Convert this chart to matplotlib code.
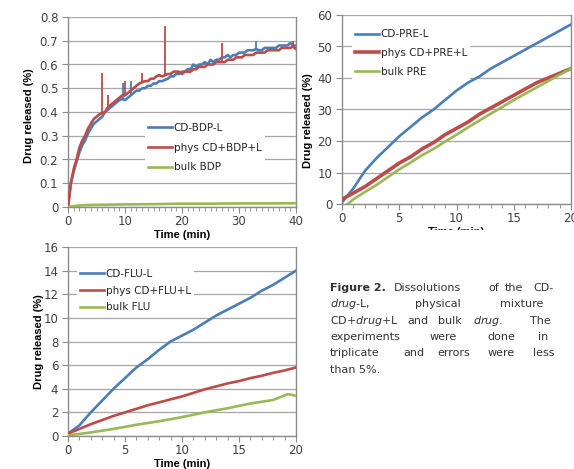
import numpy as np
import matplotlib
matplotlib.use("Agg")
import matplotlib.pyplot as plt
from matplotlib.patches import Rectangle
from matplotlib.ticker import MultipleLocator

BLUE = "#4a7ebb"
RED = "#be4b48"
GREEN = "#98b954"
GRID = "#a6a6a6"
FRAME = "#8c8c8c"
TXT = "#404040"

# ---- BDP (top left), sampled every 0.5 min ----
bdp_t = np.arange(0, 40.5, 0.5)
bdp_cd = [0.0, 0.10, 0.15, 0.19, 0.23, 0.26, 0.28, 0.31, 0.33, 0.35, 0.36, 0.37, 0.38,
          0.40, 0.41, 0.42, 0.43, 0.44, 0.45, 0.455, 0.45, 0.46, 0.47, 0.48, 0.49, 0.49,
          0.50, 0.50, 0.51, 0.51, 0.52, 0.52, 0.53, 0.53, 0.535, 0.54, 0.55, 0.55, 0.56,
          0.56, 0.57, 0.57, 0.58, 0.58, 0.60, 0.59, 0.60, 0.60, 0.61, 0.60, 0.62, 0.61,
          0.62, 0.62, 0.63, 0.63, 0.64, 0.63, 0.64, 0.64, 0.65, 0.65, 0.65, 0.66, 0.66,
          0.66, 0.665, 0.66, 0.66, 0.67, 0.67, 0.67, 0.67, 0.67, 0.68, 0.68, 0.68, 0.68,
          0.69, 0.68, 0.68]
bdp_phys = [0.0, 0.10, 0.16, 0.20, 0.25, 0.28, 0.30, 0.33, 0.35, 0.37, 0.38, 0.39, 0.395,
            0.40, 0.42, 0.43, 0.44, 0.45, 0.46, 0.47, 0.47, 0.48, 0.49, 0.50, 0.51, 0.52,
            0.525, 0.53, 0.53, 0.54, 0.54, 0.55, 0.555, 0.55, 0.555, 0.56, 0.56, 0.57, 0.57,
            0.57, 0.56, 0.57, 0.57, 0.57, 0.58, 0.58, 0.59, 0.59, 0.59, 0.60, 0.60, 0.60,
            0.61, 0.61, 0.61, 0.61, 0.62, 0.62, 0.62, 0.63, 0.63, 0.63, 0.64, 0.64, 0.64,
            0.64, 0.65, 0.65, 0.65, 0.65, 0.66, 0.66, 0.66, 0.66, 0.66, 0.67, 0.67, 0.67,
            0.67, 0.675, 0.665]
bdp_bulk_t = [0, 1, 2, 3, 5, 10, 15, 20, 25, 30, 35, 40]
bdp_bulk = [0.0, 0.004, 0.006, 0.008, 0.009, 0.011, 0.012, 0.014, 0.014, 0.015, 0.015, 0.016]
# narrow spikes: time, base, peak
cd_spike_t = [9.6, 11.1, 25.2, 33.0]
cd_spike_base = [0.455, 0.47, 0.61, 0.66]
cd_spike_top = [0.52, 0.53, 0.62, 0.70]
phys_spike_t = [6.0, 7.1, 10.0, 13.0, 17.0, 27.0, 39.5]
phys_spike_base = [0.39, 0.42, 0.47, 0.52, 0.56, 0.61, 0.67]
phys_spike_top = [0.565, 0.47, 0.53, 0.565, 0.76, 0.69, 0.70]

# ---- PRE (top right) ----
pre_t = np.arange(0, 21, 1)
pre_cd = [0.5, 5, 10.5, 14.5, 18, 21.5, 24.5, 27.5, 30, 33, 36, 38.5, 40.5, 43, 45,
          47, 49, 51, 53, 55, 57]
pre_phys = [1.5, 3.5, 5.5, 8, 10.5, 13, 15, 17.5, 19.5, 22, 24, 26, 28.5, 30.5, 32.5,
            34.5, 36.5, 38.5, 40, 41.5, 43]
pre_bulk_t = [0.5, 1, 2, 3, 4, 5, 6, 7, 8, 9, 10, 11, 12, 13, 14, 15, 16, 17, 18, 19, 20]
pre_bulk = [0, 1.5, 3.8, 6, 8.5, 11, 13.2, 15.5, 17.5, 19.8, 22, 24.3, 26.5, 28.7, 30.8,
            33, 35, 37, 39, 41, 43]

# ---- FLU (bottom left) ----
flu_t = np.arange(0, 21, 1)
flu_cd = [0.2, 0.9, 2.0, 3.0, 4.0, 4.9, 5.8, 6.5, 7.3, 8.0, 8.5, 9.0, 9.6, 10.2, 10.7,
          11.2, 11.7, 12.3, 12.8, 13.4, 14.0]
flu_phys = [0.2, 0.6, 1.0, 1.35, 1.7, 2.0, 2.3, 2.6, 2.85, 3.1, 3.35, 3.65, 3.95, 4.2,
            4.45, 4.65, 4.9, 5.1, 5.35, 5.55, 5.8]
flu_bulk_t = [0, 2, 4, 6, 8, 10, 12, 14, 16, 18, 19.3, 20]
flu_bulk = [0.05, 0.3, 0.6, 0.95, 1.25, 1.6, 2.0, 2.35, 2.75, 3.05, 3.55, 3.4]

fig = plt.figure(figsize=(5.74, 4.69), dpi=100)
W, H = 574, 469


def make_axes(l, r, t, b):
    return fig.add_axes([l / W, 1 - b / H, (r - l) / W, (b - t) / H])


def style(ax, xmax, ymax, ystep, fmt):
    ax.set_xlim(0, xmax)
    ax.set_ylim(0, ymax)
    ax.xaxis.set_major_locator(MultipleLocator(xmax / 4))
    ax.xaxis.set_minor_locator(MultipleLocator(1))
    ax.yaxis.set_major_locator(MultipleLocator(ystep))
    ax.yaxis.set_major_formatter(fmt)
    ax.grid(axis="y", color=GRID, lw=0.9)
    ax.set_axisbelow(True)
    for s in ax.spines.values():
        s.set_color(FRAME)
        s.set_linewidth(1.0)
    ax.spines["top"].set_visible(False)
    ax.tick_params(which="both", direction="out", color=FRAME, labelsize=8.5,
                   labelcolor=TXT, top=False, right=False)
    ax.tick_params(which="major", length=4, pad=3)
    ax.tick_params(axis="x", which="major", pad=2)
    ax.tick_params(which="minor", length=3)
    ax.tick_params(axis="y", which="minor", left=False)


def labels(ax, ylx, yly, xly, xlx=0.5):
    ax.set_ylabel("Drug released (%)", fontsize=8, fontweight="bold",
                  family="Liberation Sans", color="black")
    ax.yaxis.set_label_coords(ylx, yly)
    ax.set_xlabel("Time (min)", fontsize=8, fontweight="bold",
                  family="Liberation Sans", color="black")
    ax.xaxis.set_label_coords(xlx, xly)


def legend(ax, x, y, spacing):
    leg = ax.legend(loc="upper left", bbox_to_anchor=(x, y), frameon=True,
                    facecolor="white", edgecolor="none", framealpha=1,
                    handlelength=2.3, handletextpad=0.15,
                    labelspacing=spacing, borderpad=0.3, borderaxespad=0,
                    prop={"family": "DejaVu Sans", "size": 7.5})
    for t in leg.get_texts():
        t.set_color("#262626")


lw = 1.9

# top left
ax1 = make_axes(68, 296, 17, 207)
style(ax1, 40, 0.8, 0.1, lambda v, p: "0" if v == 0 else f"{v:.1f}")
ax1.plot(bdp_t, bdp_cd, color=BLUE, lw=lw, label="CD-BDP-L", zorder=3)
ax1.vlines(cd_spike_t, cd_spike_base, cd_spike_top, color=BLUE, lw=1.3, zorder=3)
ax1.plot(bdp_t, bdp_phys, color=RED, lw=lw, label="phys CD+BDP+L", zorder=4)
ax1.vlines(phys_spike_t, phys_spike_base, phys_spike_top, color=RED, lw=1.3, zorder=4)
ax1.plot(bdp_bulk_t, bdp_bulk, color=GREEN, lw=lw, label="bulk BDP", zorder=5)
labels(ax1, -0.149, 0.48, -0.12)
legend(ax1, 0.338, 0.458, 0.93)

# top right
ax2 = make_axes(342, 571, 15, 204)
style(ax2, 20, 60, 10, lambda v, p: f"{v:.0f}")
ax2.plot(pre_t, pre_cd, color=BLUE, lw=lw, label="CD-PRE-L", zorder=3)
ax2.plot(pre_t, pre_phys, color=RED, lw=2.6, label="phys CD+PRE+L", zorder=4)
ax2.plot(pre_bulk_t, pre_bulk, color=GREEN, lw=lw, label="bulk PRE", zorder=5)
labels(ax2, -0.127, 0.44, -0.12)
legend(ax2, 0.044, 0.94, 0.82)

# bottom left
ax3 = make_axes(68, 296, 247, 436)
style(ax3, 20, 16, 2, lambda v, p: f"{v:.0f}")
ax3.plot(flu_t, flu_cd, color=BLUE, lw=lw, label="CD-FLU-L", zorder=3)
ax3.plot(flu_t, flu_phys, color=RED, lw=lw, label="phys CD+FLU+L", zorder=4)
ax3.plot(flu_bulk_t, flu_bulk, color=GREEN, lw=lw, label="bulk FLU", zorder=5)
labels(ax3, -0.105, 0.50, -0.12)
legend(ax3, 0.039, 0.90, 0.63)

# the top right chart is cut off just under its axis title
fig.patches.append(Rectangle((300 / W, 1 - 262 / H), 274 / W, 32 / H,
                             transform=fig.transFigure, color="white", zorder=10))

# caption, word by word to mimic the justified block
cap_font = dict(family="DejaVu Sans", fontsize=8, color="#333333", va="baseline")
lines = [
    (291, [("Figure 2.", 330, "bold"), ("Dissolutions", 394, "normal"),
           ("of", 488, "normal"), ("the", 505, "normal"), ("CD-", 533, "normal")]),
    (307, [(r"$\mathit{drug}$-L,", 330, "normal"), ("physical", 415, "normal"),
           ("mixture", 500, "normal")]),
    (324, [(r"CD+$\mathit{drug}$+L", 330, "normal"), ("and", 407, "normal"),
           ("bulk", 438, "normal"), (r"$\mathit{drug}$.", 473, "normal"),
           ("The", 530, "normal")]),
    (340, [("experiments", 330, "normal"), ("were", 430, "normal"),
           ("done", 487, "normal"), ("in", 538, "normal")]),
    (356, [("triplicate", 330, "normal"), ("and", 403, "normal"),
           ("errors", 437, "normal"), ("were", 488, "normal"), ("less", 533, "normal")]),
    (373, [("than 5%.", 330, "normal")]),
]
for y, words in lines:
    for w, x, weight in words:
        fig.text(x / W, 1 - y / H, w, fontweight=weight, **cap_font)

fig.savefig("out.png", dpi=100)
